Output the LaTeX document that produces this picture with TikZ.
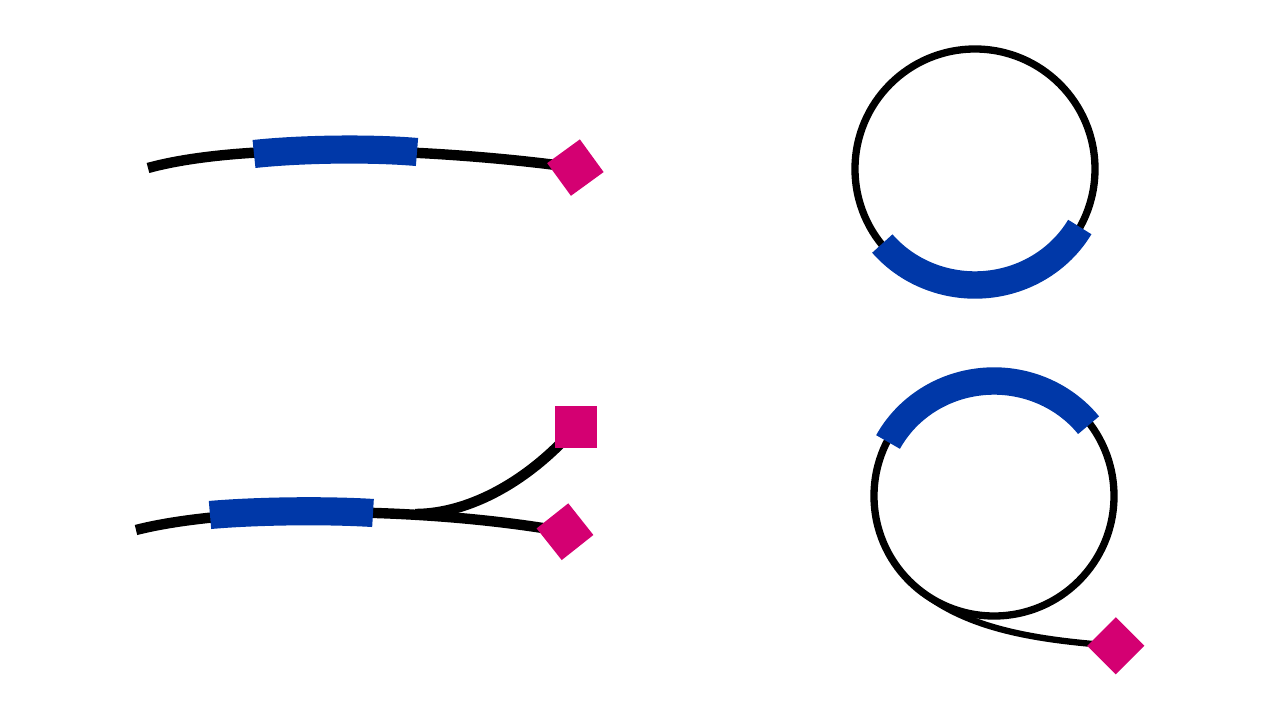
\documentclass[tikz,border=0pt]{standalone}
\usepackage{tikz}
\definecolor{segblue}{RGB}{0,56,168}
\definecolor{tagpink}{RGB}{212,0,114}
\tikzset{
    strand/.style={line width=7.4pt},
    band/.style={draw=segblue, line width=20pt},
    ring/.style={circle, draw, line width=5.2pt, minimum size=6cm, inner sep=0pt, outer sep=0pt},
    tailline/.style={line width=4.5pt},
    tagbox/.style={fill=tagpink, minimum size=1.01cm, inner sep=0pt, outer sep=0pt}
}
\begin{document}
\begin{tikzpicture}
                \useasboundingbox (0,0) rectangle (32,18);
                %upper left strand
                \coordinate (a start) at (3.7,13.8);
                \coordinate (a end) at (14.385,13.81);
                \draw[strand] (a start) .. controls (6.25,14.5) and (11.25,14.25) .. (a end);
                \draw[band] (6.35,14.15) .. controls (7.5,14.275) and (9.25,14.3) .. (10.425,14.2);
                \node[tagbox, rotate=36] (a tag) at (a end) {};
                %lower left strand with branch
                \coordinate (b start) at (3.4,4.75);
                \coordinate (b end) at (14.125,4.7075);
                \coordinate (b fork) at (10.375,5.15);
                \coordinate (b top) at (14.3975,7.325);
                \draw[strand] (b start) .. controls (5.75,5.35) and (10.5,5.35) .. (b end);
                \draw[strand] (b fork) .. controls (11.75,5.15) and (13.25,6) .. (b top);
                \draw[band] (5.25,5.125) .. controls (6.375,5.225) and (8.125,5.25) .. (9.325,5.175);
                \node[tagbox, rotate=38.4] (b tag) at (b end) {};
                \node[tagbox, minimum size=1.03cm] (b box) at (b top) {};
                %upper ring
                \node[ring] (c ring) at (24.375,13.775) {};
                \draw[band, line width=19.5pt] (c ring.center) ++(220:3.025cm and 2.9cm)
                        arc[start angle=220, end angle=330, x radius=3.025cm, y radius=2.9cm];
                %lower ring with tail
                \node[ring] (d ring) at (24.85,5.6) {};
                \draw[band, line width=19.5pt] (d ring.center) ++(38:3cm and 2.875cm)
                        arc[start angle=38, end angle=152, x radius=3cm, y radius=2.875cm];
                \coordinate (d end) at (27.895,1.855);
                \draw[tailline] (d ring.230) .. controls +(-40:1.5) and +(176:2.25) .. (d end);
                \node[tagbox, rotate=45] (d tag) at (d end) {};
            \end{tikzpicture}
\end{document}
